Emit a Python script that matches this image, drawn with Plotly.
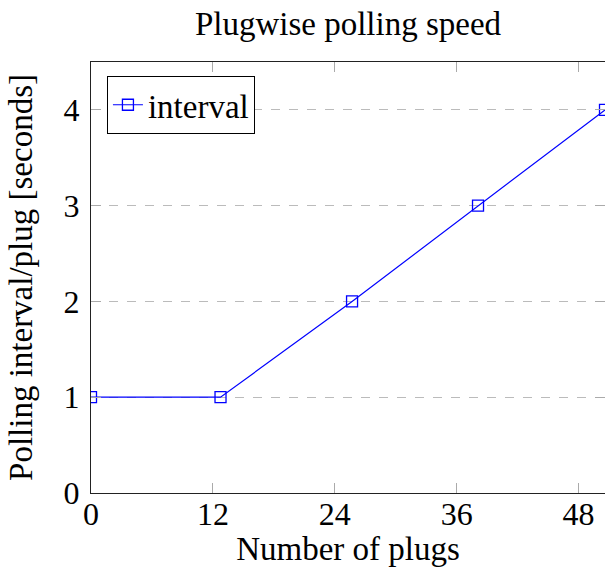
import plotly.graph_objects as go

plugs = [0, 12.75, 25.7, 38.1, 50.6]
interval = [1, 1, 2, 3, 4]
x_ticks = [0, 12, 24, 36, 48]
y_ticks = [0, 1, 2, 3, 4]

FONT = "'Liberation Serif', 'Times New Roman', 'DejaVu Serif', serif"
FS = 32
FT = 33

fig = go.Figure()
fig.add_trace(go.Scatter(
    x=plugs, y=interval, mode="lines+markers", name="interval",
    line=dict(color="#0000ff", width=1.2),
    marker=dict(symbol="square-open", size=11, color="#0000ff", line=dict(width=1.3, color="#0000ff")),
    cliponaxis=True,
))

fig.update_layout(
    width=605, height=575,
    margin=dict(l=91, r=0, t=62, b=82),
    paper_bgcolor="white", plot_bgcolor="white",
    font=dict(family=FONT, size=FS, color="black"),
    title=dict(text="Plugwise polling speed", x=0.5, xref="paper", xanchor="center",
               y=1 - 23 / 575, yref="container", yanchor="middle",
               font=dict(family=FONT, size=FT, color="black")),
    showlegend=True,
    legend=dict(x=0.031, y=0.968, xanchor="left", yanchor="top",
                bordercolor="black", borderwidth=1, bgcolor="white",
                font=dict(family=FONT, size=FT), itemwidth=30,
                tracegroupgap=0),
    xaxis=dict(range=[0, 50.6], tickvals=x_ticks, ticktext=[str(v) for v in x_ticks],
               showgrid=False, zeroline=False, showline=True, linecolor="#222", linewidth=1.2,
               mirror="ticks", ticks="inside", ticklen=10, tickcolor="#aaaaaa", tickwidth=1.2,
               ticklabelstandoff=-8,
               title=dict(text="Number of plugs", standoff=0, font=dict(family=FONT, size=FT)),
               automargin=False),
    yaxis=dict(range=[0, 4.5], tickvals=y_ticks, ticktext=[str(v) for v in y_ticks],
               showgrid=True, gridcolor="#bbbbbb", griddash="dash", gridwidth=1.2,
               zeroline=False, showline=True, linecolor="#222", linewidth=1.2,
               mirror="ticks", ticks="inside", ticklen=10, tickcolor="#aaaaaa", tickwidth=1.2,
               ticklabelstandoff=4,
               title=dict(text="Polling interval/plug [seconds]", standoff=20, font=dict(family=FONT, size=FT)),
               automargin=False),
)

fig.write_html("out.html")
